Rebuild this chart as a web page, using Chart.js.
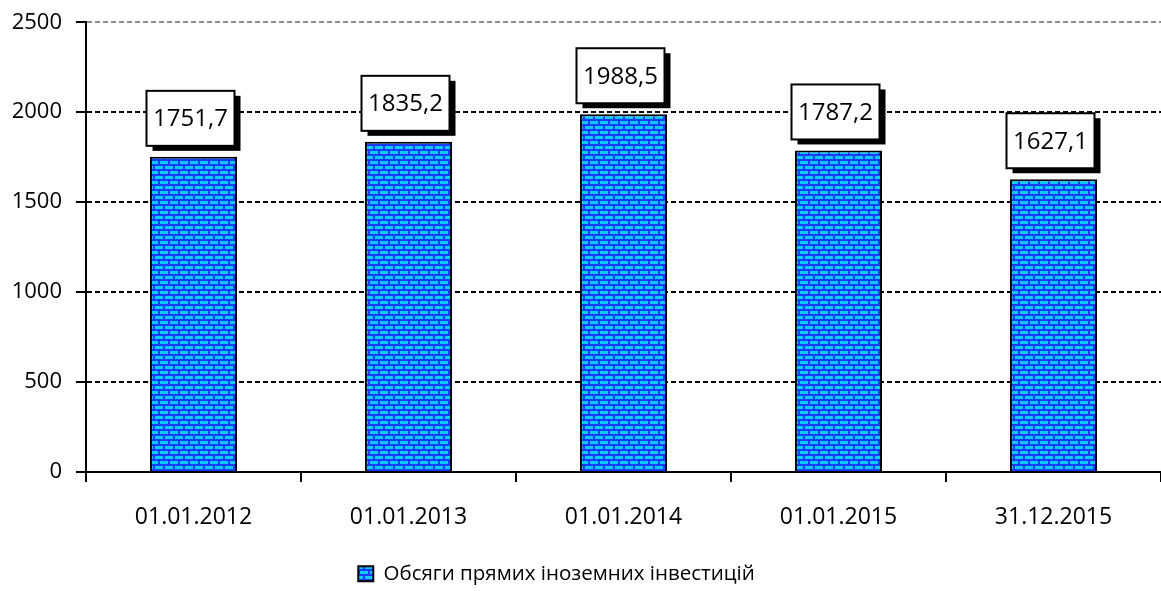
<!DOCTYPE html>
<html>
<head>
<meta charset="utf-8">
<script src="https://cdn.jsdelivr.net/npm/chart.js@4"></script>
<style>
  html, body { margin: 0; padding: 0; background: #fff; }
  #wrap { width: 1161px; height: 591px; }
</style>
</head>
<body>
<div id="wrap"><canvas id="chart" width="1161" height="591"></canvas></div>
<script>
// chart data
const categories = ['01.01.2012', '01.01.2013', '01.01.2014', '01.01.2015', '31.12.2015'];
const investments = [1751.7, 1835.2, 1988.5, 1787.2, 1627.1];
const seriesName = 'Обсяги прямих іноземних інвестицій';
const yTicks = [0, 500, 1000, 1500, 2000, 2500];

// brick fill like the office pattern
function brickPattern() {
    const c = document.createElement('canvas');
    c.width = 10;
    c.height = 10;
    const g = c.getContext('2d');
    g.fillStyle = '#1a3cff';
    g.fillRect(0, 0, 10, 10);
    g.fillStyle = '#0ccaff';
    g.fillRect(0, 1, 8, 3);
    g.fillRect(5, 6, 5, 3);
    g.fillRect(0, 6, 3, 3);
    return g.createPattern(c, 'repeat');
}

const bricks = brickPattern();

// value boxes with a drop shadow above each bar
const valueBoxes = {
    id: 'valueBoxes',
    afterLayout(chart) {
        // legend in the original sits a bit left of centre
        chart.legend.left -= 30;
        chart.legend.right -= 30;
    },
    afterDatasetsDraw(chart) {
        const ctx = chart.ctx;
        const bars = chart.getDatasetMeta(0).data;
        ctx.save();
        bars.forEach((bar, i) => {
            const w = 88, h = 55;
            const x = bar.x - 3 - w / 2;
            const y = bar.y - 11 - h;
            ctx.fillStyle = '#000';
            ctx.fillRect(x + 6, y + 5, w, h);
            ctx.fillStyle = '#fff';
            ctx.fillRect(x, y, w, h);
            ctx.lineWidth = 2;
            ctx.strokeStyle = '#000';
            ctx.strokeRect(x, y, w, h);
            ctx.fillStyle = '#000';
            ctx.font = '24px "Open Sans"';
            ctx.textAlign = 'center';
            ctx.textBaseline = 'middle';
            ctx.fillText(investments[i].toFixed(1).replace('.', ','), x + w / 2, y + h / 2 + 1);
        });
        ctx.restore();
    }
};

new Chart(document.getElementById('chart'), {
    type: 'bar',
    data: {
        labels: categories,
        datasets: [{
            label: seriesName,
            data: investments,
            backgroundColor: bricks,
            borderColor: '#000',
            borderWidth: 2,
            borderSkipped: 'bottom',
            categoryPercentage: 1,
            barPercentage: 0.405
        }]
    },
    options: {
        responsive: false,
        animation: false,
        layout: { padding: { left: 12, right: 0, top: 5, bottom: -3 } },
        plugins: {
            legend: {
                position: 'bottom',
                labels: {
                    color: '#000',
                    font: { family: 'Open Sans', size: 20.5 },
                    boxWidth: 15,
                    boxHeight: 15,
                    padding: 10
                }
            },
            tooltip: { enabled: false }
        },
        scales: {
            x: {
                offset: true,
                grid: {
                    offset: true,
                    drawOnChartArea: false,
                    color: '#000',
                    lineWidth: 2,
                    tickLength: 10
                },
                border: { color: '#000', width: 2 },
                ticks: {
                    color: '#000',
                    padding: 22,
                    font: { family: 'Open Sans', size: 23 }
                }
            },
            y: {
                min: 0,
                max: 2500,
                afterBuildTicks(scale) {
                    scale.ticks = yTicks.map(v => ({ value: v }));
                },
                afterFit(scale) {
                    scale.width = 74;
                },
                grid: {
                    color: ctx => ctx.tick && ctx.tick.value === 2500 ? '#8c8c8c' : '#000',
                    lineWidth: 2,
                    tickLength: 10,
                    tickColor: '#000',
                    tickBorderDash: [],
                    drawTicks: true
                },
                border: { color: '#000', width: 2, dash: [5, 3] },
                ticks: {
                    color: '#000',
                    padding: 14,
                    font: { family: 'Open Sans', size: 22, lineHeight: 0.75 },
                    callback: v => String(v)
                }
            }
        }
    },
    plugins: [valueBoxes]
});
</script>
</body>
</html>
